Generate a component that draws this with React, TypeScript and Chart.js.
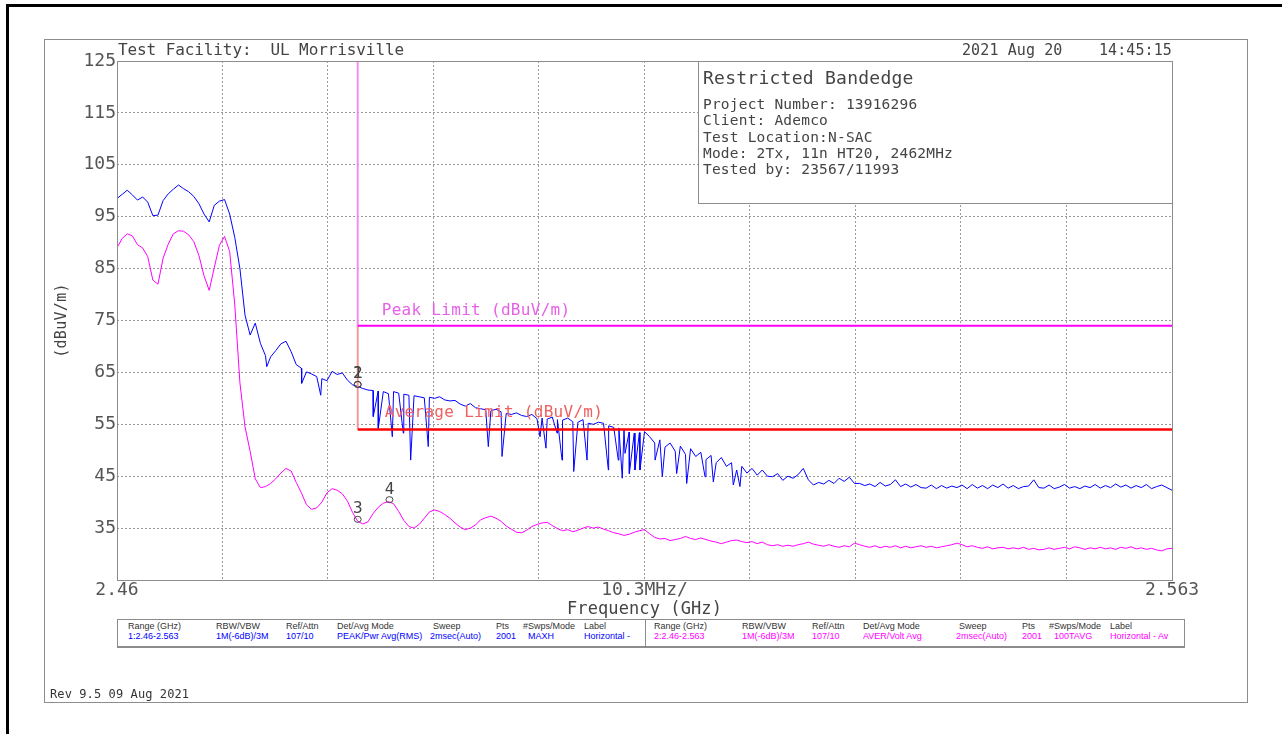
import React, { useEffect, useRef } from "react";
import { Chart, registerables } from "chart.js";
Chart.register(...registerables);

const FONT = "'Liberation Sans', 'DejaVu Sans', Arial, sans-serif";
const MONO = "'DejaVu Sans Mono', 'Liberation Mono', monospace";

// ---- axis definition ----
const startGHz = 2.46;
const stopGHz = 2.563;
const sweepStepGHz = 0.0005;
const gridStepGHz = 0.0103;
const yMin = 25;
const yMax = 125;
const yStep = 10;
const xTickLabels = ["2.46", "", "", "", "", "10.3MHz/", "", "", "", "", "2.563"];
const xTitle = "Frequency (GHz)";
const yTitle = "(dBuV/m)";

// ---- trace 1: peak (MAXH), dBuV/m, one value every 0.5 MHz from 2.46 GHz ----
const peakTrace = [
  98.5, 99.3, 100.1, 99.2, 98.2, 98.8, 97.8, 95.2, 95.3, 98.1,
  99.4, 100.3, 101.1, 100.4, 99.8, 98.9, 97.5, 95.5, 94.0, 97.2,
  98.0, 98.3, 95.5, 91.0, 85.0, 76.0, 72.2, 74.5, 70.6, 68.2,
  68.0, 69.2, 70.5, 71.0, 69.0, 66.5, 65.8, 65.1, 64.7, 64.2,
  63.8, 63.4, 65.2, 64.6, 64.9, 63.5, 62.6, 62.3, 61.9, 61.6,
  61.5, 61.4, 61.3, 60.9, 61.3, 61.0, 60.8, 60.6, 60.5, 60.3,
  60.1, 60.2, 60.0, 60.3, 59.7, 59.5, 59.6, 58.9, 58.5, 59.0,
  58.2, 58.0, 57.8, 57.6, 57.9, 57.4, 57.1, 56.9, 57.2, 56.7,
  56.5, 56.9, 56.1, 56.2, 56.0, 56.4, 55.9, 55.8, 56.2, 55.5,
  55.4, 55.9, 55.2, 55.0, 55.4, 55.2, 54.7, 54.4, 54.3, 54.0,
  53.5, 53.3, 53.4, 53.6, 52.6, 51.4, 52.0, 50.6, 51.4, 49.8,
  50.8, 49.2, 50.3, 48.8, 49.6, 48.2, 49.0, 47.6, 48.6, 46.9,
  47.6, 46.2, 46.9, 45.6, 46.5, 45.2, 46.2, 45.0, 44.9, 45.5,
  44.2, 45.0, 44.6, 45.3, 46.5, 44.3, 43.3, 43.8, 43.5, 44.2,
  43.6, 44.6, 44.0, 44.8, 43.6, 43.6, 43.2, 43.5, 43.0, 43.8,
  43.1, 43.4, 44.3, 43.0, 43.5, 42.9, 43.4, 42.8, 42.7, 43.3,
  42.6, 43.2, 42.7, 43.1, 42.8, 43.3, 42.6, 43.4, 42.7, 43.2,
  42.6, 43.3, 42.8, 43.5, 42.7, 43.2, 42.6, 43.0, 43.1, 44.3,
  42.8, 42.7, 43.3, 42.6, 42.9, 43.4, 42.7, 43.0, 42.6, 43.1,
  42.8, 43.4, 42.7, 43.2, 42.8, 43.5, 42.9, 43.3, 42.7, 43.2,
  42.8, 43.4, 42.6, 43.0, 43.3, 42.8, 42.3,
];
// narrow downward spikes of trace 1 (frequency GHz, level dBuV/m)
const peakDipFreqs = [
  2.47462, 2.47803, 2.47989, 2.48502, 2.48551, 2.48688, 2.48795, 2.48867, 2.49039,
  2.49625, 2.49759, 2.5013, 2.50188, 2.50296, 2.50345, 2.50459, 2.50589,
  2.50797, 2.50894, 2.50933, 2.5096, 2.51002, 2.51057, 2.51106,
  2.51253, 2.51324, 2.51464, 2.51562, 2.51741, 2.51822, 2.52017, 2.52082,
];
const peakDipValues = [
  66.1, 62.9, 60.6, 56.5, 54.2, 52.6, 53.3, 48.1, 50.7,
  50.7, 48.8, 52.6, 50.4, 53.3, 48.1, 45.9, 48.1,
  46.2, 48.1, 44.6, 49.4, 45.5, 46.2, 46.2,
  48.1, 44.9, 45.5, 43.6, 44.9, 43.9, 43.3, 43.0,
];

// ---- trace 2: average (100 TAVG), dBuV/m ----
const avgTrace = [
  89.0, 90.8, 91.7, 91.3, 89.6, 89.0, 87.3, 82.8, 82.0, 87.0,
  89.7, 91.7, 92.3, 92.2, 91.5, 90.2, 87.5, 83.6, 80.8, 85.2,
  89.5, 91.2, 88.3, 78.0, 63.0, 54.5, 49.8, 44.5, 42.8, 43.0,
  43.6, 44.5, 45.6, 46.5, 46.0, 43.8, 41.8, 39.5, 38.6, 38.9,
  40.0, 41.8, 42.6, 42.3, 41.6, 40.2, 38.0, 36.3, 35.8, 36.2,
  37.8, 39.0, 39.8, 40.1, 39.7, 38.2, 36.5, 35.3, 35.0, 35.7,
  36.9, 38.1, 38.5, 38.2, 37.6, 36.9, 36.0, 35.2, 34.7, 35.0,
  35.6, 36.6, 37.0, 37.3, 36.9, 36.3, 35.4, 34.8, 34.2, 34.1,
  34.6, 35.3, 35.7, 36.0, 36.1, 35.5, 34.9, 34.5, 34.7, 34.3,
  34.6, 35.0, 35.3, 35.0, 35.2, 34.8, 34.5, 34.1, 33.9, 33.6,
  33.8, 34.2, 34.5, 34.7, 33.9, 33.2, 32.9, 33.0, 32.6, 32.8,
  33.0, 33.4, 33.0, 32.8, 33.1, 32.8, 32.5, 32.3, 32.0, 32.3,
  32.6, 32.7, 32.4, 32.2, 32.4, 32.0, 32.3, 31.8, 31.6, 31.8,
  31.5, 31.7, 31.5, 31.8, 32.0, 32.3, 31.9, 31.7, 31.5, 31.8,
  31.5, 31.3, 31.6, 31.4, 32.1, 31.8, 31.5, 31.3, 31.6, 31.2,
  31.5, 31.3, 31.6, 31.2, 31.5, 31.2, 31.4, 31.6, 31.3, 31.5,
  31.2, 31.4, 31.6, 31.8, 32.1, 31.8, 31.4, 31.6, 31.3, 31.1,
  31.4, 31.0, 31.2, 31.3, 31.0, 31.2, 31.0, 31.3, 30.9, 31.1,
  30.8, 30.9, 31.2, 30.9, 31.1, 31.3, 31.0, 31.4, 31.2, 30.9,
  31.2, 31.0, 31.3, 31.0, 31.2, 30.9, 31.3, 31.1, 31.4, 31.0,
  31.2, 30.9, 31.1, 30.8, 30.6, 31.0, 31.1,
];

// ---- limits ----
const bandEdgeGHz = 2.4835;
const peakLimit = 74;
const avgLimit = 54;
const limitLabels = ["Peak Limit (dBuV/m)", "Average Limit (dBuV/m)"];

// ---- markers ----
const markerLabels = ["1", "2", "3", "4"];
const markerFreqs = [2.4835, 2.4835, 2.4835, 2.4866];
const markerValues = [62.3, 62.3, 36.3, 40.1];

// ---- text blocks ----
const headerLeft = "Test Facility:  UL Morrisville";
const headerRight = "2021 Aug 20    14:45:15";
const infoTitle = "Restricted Bandedge";
const infoLines = [
  "Project Number: 13916296",
  "Client: Ademco",
  "Test Location:N-SAC",
  "Mode: 2Tx, 11n HT20, 2462MHz",
  "Tested by: 23567/11993",
];
const tableHeaders = ["Range (GHz)", "RBW/VBW", "Ref/Attn", "Det/Avg Mode", "Sweep", "Pts", "#Swps/Mode", "Label"];
const trace1Settings = ["1:2.46-2.563", "1M(-6dB)/3M", "107/10", "PEAK/Pwr Avg(RMS)", "2msec(Auto)", "2001", "MAXH", "Horizontal -"];
const trace2Settings = ["2:2.46-2.563", "1M(-6dB)/3M", "107/10", "AVER/Volt Avg", "2msec(Auto)", "2001", "100TAVG", "Horizontal - Av"];
const footerText = "Rev 9.5 09 Aug 2021";

// layout of the settings table columns (px from each half's origin)
const colHeaderX = [11, 99, 169, 220, 316, 379, 406, 467];
const colValueX = [11, 99, 169, 220, 313, 379, 411, 467];
const halfOffset = 526;

const toPoints = (vals: number[]) => vals.map((v, i) => ({ x: startGHz + i * sweepStepGHz, y: v }));
const peakPoints = [
  ...toPoints(peakTrace),
  ...peakDipFreqs.map((f, k) => ({ x: f, y: peakDipValues[k] })),
].sort((a, b) => a.x - b.x);

const decorPlugin = {
  id: "decor",
  afterDatasetsDraw(chart: any) {
    const { ctx, chartArea: a, scales } = chart;
    const x = scales.x;
    const y = scales.y;
    ctx.save();
    // plot frame
    ctx.strokeStyle = "#8c8c8c";
    ctx.lineWidth = 1;
    ctx.setLineDash([]);
    ctx.strokeRect(Math.round(a.left) + 0.5, Math.round(a.top) + 0.5, Math.round(a.right - a.left), Math.round(a.bottom - a.top));

    // limit labels
    const xb = x.getPixelForValue(bandEdgeGHz);
    (ctx as any).letterSpacing = "0.3px";
    ctx.font = `16px ${MONO}`;
    ctx.textAlign = "left";
    ctx.textBaseline = "alphabetic";
    ctx.fillStyle = "#e860e8";
    ctx.fillText(limitLabels[0], xb + 24, y.getPixelForValue(peakLimit) - 11);
    ctx.fillStyle = "#f06060";
    ctx.fillText(limitLabels[1], xb + 27, y.getPixelForValue(avgLimit) - 12);

    // markers
    (ctx as any).letterSpacing = "0px";
    ctx.font = `16px ${MONO}`;
    ctx.textAlign = "center";
    ctx.fillStyle = "#444";
    ctx.strokeStyle = "#444";
    ctx.lineWidth = 1;
    markerLabels.forEach((lab, k) => {
      const px = x.getPixelForValue(markerFreqs[k]);
      const py = y.getPixelForValue(markerValues[k]);
      ctx.beginPath();
      ctx.ellipse(px, py - 2, 3.5, 3, 0, 0, Math.PI * 2);
      ctx.stroke();
      ctx.fillText(lab, px, py - 8);
    });

    // axis titles
    ctx.fillStyle = "#444";
    (ctx as any).letterSpacing = "0.1px";
    ctx.font = `17px ${MONO}`;
    ctx.textAlign = "center";
    ctx.textBaseline = "alphabetic";
    ctx.fillText(xTitle, (a.left + a.right) / 2, 614);
    ctx.translate(62, (a.top + a.bottom) / 2);
    ctx.rotate(-Math.PI / 2);
    (ctx as any).letterSpacing = "0.3px";
    ctx.font = `15px ${MONO}`;
    ctx.textBaseline = "middle";
    ctx.fillText(yTitle, 0, 0);
    ctx.restore();
  },
};

export default function App() {
  const ref = useRef<HTMLCanvasElement>(null);
  useEffect(() => {
    const canvas = ref.current!;
    const line = (data: any[], color: string, width: number) => ({
      data,
      borderColor: color,
      backgroundColor: color,
      borderWidth: width,
      pointRadius: 0,
      showLine: true,
      tension: 0,
      fill: false,
    });
    const chart = new Chart(canvas, {
      type: "scatter",
      data: {
        datasets: [
          line([{ x: bandEdgeGHz, y: avgLimit }, { x: stopGHz, y: avgLimit }], "#ff0000", 2.5),
          line([{ x: bandEdgeGHz, y: peakLimit }, { x: stopGHz, y: peakLimit }], "#ff00ff", 2),
          line([{ x: bandEdgeGHz, y: yMax }, { x: bandEdgeGHz, y: peakLimit }], "#f48cf4", 2),
          line([{ x: bandEdgeGHz, y: peakLimit }, { x: bandEdgeGHz, y: avgLimit }], "#f49a9a", 2),
          line(peakPoints, "#0000ff", 1),
          line(toPoints(avgTrace), "#ff00ff", 1),
        ],
      },
      options: {
        responsive: false,
        animation: false,
        devicePixelRatio: 1,
        layout: { padding: { left: 49, right: 110, top: 61, bottom: 111 } },
        plugins: { legend: { display: false }, tooltip: { enabled: false } },
        scales: {
          x: {
            type: "linear",
            min: startGHz,
            max: stopGHz,
            afterBuildTicks: (s: any) => {
              s.ticks = xTickLabels.map((_, k) => ({ value: startGHz + k * gridStepGHz }));
            },
            afterFit: (s: any) => {
              s.height = 43;
            },
            ticks: {
              autoSkip: false,
              maxRotation: 0,
              padding: 0,
              color: "#555",
              font: { family: MONO, size: 18 },
              callback: (_v: any, idx: number) => xTickLabels[idx] ?? "",
            },
            grid: { color: "#9a9a9a", lineWidth: 1, drawTicks: false },
            border: { display: false, dash: [2, 2] },
          },
          y: {
            min: yMin,
            max: yMax,
            afterFit: (s: any) => {
              s.width = 68;
            },
            ticks: {
              stepSize: yStep,
              padding: 1,
              color: "#555",
              font: { family: MONO, size: 18 },
              callback: (v: any) => (v === yMin ? "" : String(v)),
            },
            grid: { color: "#9a9a9a", lineWidth: 1, drawTicks: false },
            border: { display: false, dash: [2, 2] },
          },
        },
      },
      plugins: [decorPlugin],
    } as any);
    return () => chart.destroy();
  }, []);

  const abs = (extra: React.CSSProperties): React.CSSProperties => ({ position: "absolute", whiteSpace: "pre", ...extra });

  return (
    <div style={{ position: "absolute", left: 0, top: 0, width: 1282, height: 734, overflow: "hidden", background: "#fff", fontFamily: MONO, color: "#444" }}>
      {/* page border */}
      <div style={abs({ left: 6, top: 4, width: 1300, height: 760, borderTop: "3px solid #000", borderLeft: "3px solid #000" })} />
      {/* outer gray frame */}
      <div style={abs({ left: 44, top: 39, width: 1204, height: 664, border: "1px solid #8c8c8c", boxSizing: "border-box" })} />
      <canvas ref={ref} width={1282} height={734} style={{ position: "absolute", left: 0, top: 0, width: 1282, height: 734 }} />
      {/* header */}
      <div style={abs({ left: 118, top: 42, fontSize: 16, lineHeight: "16px", letterSpacing: "-0.1px" })}>{headerLeft}</div>
      <div style={abs({ right: 110, top: 42, fontSize: 15, lineHeight: "16px", letterSpacing: "0.1px" })}>{headerRight}</div>
      {/* info box */}
      <div style={abs({ left: 698, top: 61, width: 475, height: 143, border: "1px solid #8c8c8c", background: "#fff", boxSizing: "border-box" })}>
        <div style={abs({ left: 4, top: 7, fontSize: 18, lineHeight: "18px", letterSpacing: "0.25px" })}>{infoTitle}</div>
        {infoLines.map((t, k) => (
          <div key={k} style={abs({ left: 4, top: 34 + k * 16.25, fontSize: 14.5, lineHeight: "16px", letterSpacing: "0.2px" })}>{t}</div>
        ))}
      </div>
      {/* settings table */}
      <div style={abs({ left: 117, top: 619, width: 1068, height: 29, border: "1px solid #8c8c8c", borderBottom: "2px solid #8c8c8c", boxSizing: "border-box", background: "#fff", fontFamily: FONT })}>
        <div style={abs({ left: 527, top: 0, width: 1, height: 27, background: "#8c8c8c" })} />
        {[trace1Settings, trace2Settings].map((vals, h) => (
          <React.Fragment key={h}>
            {tableHeaders.map((t, k) => (
              <div key={"h" + k} style={abs({ left: colHeaderX[k] + h * halfOffset - 1, top: 1, fontSize: 9, lineHeight: "10px", color: "#333" })}>{t}</div>
            ))}
            {vals.map((t, k) => (
              <div key={"v" + k} style={abs({ left: colValueX[k] + h * halfOffset - 1, top: 11, fontSize: 9, lineHeight: "10px", color: h === 0 ? "#0000ff" : "#ff00ff" })}>{t}</div>
            ))}
          </React.Fragment>
        ))}
      </div>
      {/* footer */}
      <div style={abs({ left: 50, top: 688, fontSize: 12, lineHeight: "12px", letterSpacing: "0.1px", color: "#333" })}>{footerText}</div>
    </div>
  );
}
